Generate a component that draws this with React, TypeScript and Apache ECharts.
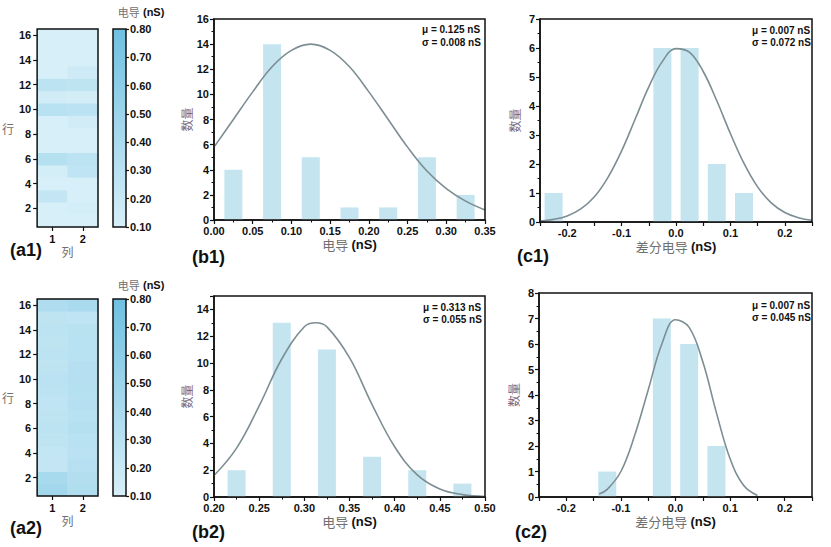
import React, { useEffect, useRef } from 'react';
import * as echarts from 'echarts';

// ---------- data ----------
const rowLabels = ['1', '2', '3', '4', '5', '6', '7', '8', '9', '10', '11', '12', '13', '14', '15', '16'];
const colLabels = ['1', '2'];

// heatmap (a1): rows 1..16, column 1 and column 2 (nS)
const a1Col1 = [0.045, 0.07, 0.23, 0.06, 0.12, 0.33, 0.08, 0.04, 0.06, 0.31, 0.14, 0.28, 0.09, 0.08, 0.04, 0.06];
const a1Col2 = [0.08, 0.12, 0.09, 0.03, 0.26, 0.28, 0.07, 0.09, 0.14, 0.29, 0.13, 0.27, 0.17, 0.09, 0.07, 0.07];
// heatmap (a2)
const a2Col1 = [0.46, 0.42, 0.23, 0.24, 0.27, 0.28, 0.27, 0.26, 0.28, 0.29, 0.27, 0.28, 0.27, 0.28, 0.27, 0.37];
const a2Col2 = [0.36, 0.35, 0.32, 0.29, 0.31, 0.33, 0.31, 0.32, 0.33, 0.32, 0.32, 0.31, 0.31, 0.30, 0.26, 0.41];

const colorbarMin = 0.1;
const colorbarMax = 0.8;
const colorbarLow = '#d7eff8';
const colorbarHigh = '#6fc0e1';

// histogram (b1)
const b1BinCenters = [0.025, 0.075, 0.125, 0.175, 0.225, 0.275, 0.325];
const b1Counts = [4, 14, 5, 1, 1, 5, 2];
const b1CurveX = [0, 0.025, 0.05, 0.075, 0.1, 0.125, 0.15, 0.175, 0.2, 0.225, 0.25, 0.275, 0.3, 0.325, 0.35];
const b1CurveY = [5.8, 8.0, 10.2, 12.2, 13.5, 14.0, 13.5, 12.2, 10.2, 8.0, 5.8, 3.9, 2.5, 1.5, 0.8];

// histogram (c1)
const c1BinCenters = [-0.225, -0.025, 0.025, 0.075, 0.125];
const c1Counts = [1, 6, 6, 2, 1];
const c1CurveX = [-0.25, -0.225, -0.2, -0.175, -0.15, -0.125, -0.1, -0.075, -0.05, -0.025, 0, 0.025, 0.05, 0.075, 0.1, 0.125, 0.15, 0.175, 0.2, 0.225, 0.25];
const c1CurveY = [0.03, 0.09, 0.21, 0.45, 0.87, 1.54, 2.45, 3.55, 4.66, 5.54, 5.98, 5.85, 5.19, 4.18, 3.05, 2.02, 1.21, 0.66, 0.33, 0.15, 0.06];

// histogram (b2)
const b2BinCenters = [0.225, 0.275, 0.325, 0.375, 0.425, 0.475];
const b2Counts = [2, 13, 11, 3, 2, 1];
const b2CurveX = [0.2, 0.225, 0.25, 0.275, 0.3, 0.3125, 0.325, 0.35, 0.375, 0.4, 0.425, 0.45, 0.475, 0.5];
const b2CurveY = [1.6, 3.65, 6.8, 10.3, 12.7, 13.0, 12.7, 10.4, 6.9, 3.75, 1.65, 0.6, 0.18, 0.04];

// histogram (c2)
const c2BinCenters = [-0.125, -0.025, 0.025, 0.075];
const c2Counts = [1, 7, 6, 2];
const c2CurveX = [-0.14, -0.125, -0.1, -0.075, -0.05, -0.025, 0, 0.025, 0.05, 0.075, 0.1, 0.125, 0.15];
const c2CurveY = [0.12, 0.3, 1.0, 2.4, 4.2, 6.0, 6.95, 6.65, 5.3, 3.3, 1.5, 0.45, 0.06];

const statsB1 = ['μ = 0.125 nS', 'σ = 0.008 nS'];
const statsC1 = ['μ = 0.007 nS', 'σ = 0.072 nS'];
const statsB2 = ['μ = 0.313 nS', 'σ = 0.055 nS'];
const statsC2 = ['μ = 0.007 nS', 'σ = 0.045 nS'];

// ---------- styles ----------
const LATIN = 'Liberation Sans, Arial, sans-serif';
const CJK = 'Noto Sans CJK SC, sans-serif';
const INK = '#111111';
const BAR = '#c4e4f0';
const CURVE = '#7c8e92';

const tickLabel = { fontFamily: LATIN, fontWeight: 'bold' as const, fontSize: 11, color: INK };
const nameRich = {
  a: { fontFamily: CJK, fontSize: 13, color: '#707070' },
  b: { fontFamily: LATIN, fontWeight: 'bold' as const, fontSize: 13, color: INK },
};

const boxGrid = (left: number, top: number, width: number, height: number) => ({
  left, top, width, height,
  show: true, z: 10, borderColor: INK, borderWidth: 1.5, backgroundColor: 'transparent',
});

function heatAxes(gridIndex: number) {
  const everyOther = (i: number) => i % 2 === 1;
  return {
    x: {
      gridIndex, type: 'category', data: colLabels, z: 11,
      axisLine: { show: false },
      axisTick: { show: true, alignWithLabel: true, length: 4, lineStyle: { color: INK, width: 1.2 } },
      axisLabel: { ...tickLabel, fontSize: 11, margin: 6 },
      splitLine: { show: false },
      name: '列', nameLocation: 'middle', nameGap: 18,
      nameTextStyle: { fontFamily: CJK, fontSize: 12, color: '#707070' },
    },
    y: {
      gridIndex, type: 'category', data: rowLabels, z: 11,
      axisLine: { show: false },
      axisTick: { show: true, alignWithLabel: true, interval: everyOther, length: 4, lineStyle: { color: INK, width: 1.2 } },
      axisLabel: { ...tickLabel, fontSize: 11, margin: 6, interval: everyOther },
      splitLine: { show: false },
      name: '行', nameLocation: 'middle', nameRotate: 0, nameGap: 19,
      nameTextStyle: { fontFamily: CJK, fontSize: 12, color: '#707070' },
    },
  };
}

function colorbarAxes(gridIndex: number) {
  return {
    x: { gridIndex, type: 'category', data: ['c'], show: false },
    y: {
      gridIndex, type: 'value', position: 'right', min: colorbarMin, max: colorbarMax, interval: 0.1, z: 11,
      axisLine: { show: false },
      axisTick: { show: true, length: 3, lineStyle: { color: INK, width: 1.2 } },
      axisLabel: { ...tickLabel, fontSize: 11, margin: 4, formatter: (v: number) => v.toFixed(2) },
      splitLine: { show: false },
    },
  };
}

function histAxes(
  gridIndex: number,
  xMin: number, xMax: number, xInterval: number, xFmt: (v: number) => string, xMinor: boolean,
  yMax: number, yInterval: number, xName: string,
) {
  return {
    x: {
      gridIndex, type: 'value', min: xMin, max: xMax, interval: xInterval,
      axisLine: { show: true, onZero: false, lineStyle: { color: INK, width: 1.5 } },
      axisTick: { show: true, length: 4, lineStyle: { color: INK, width: 1.2 } },
      minorTick: { show: xMinor, splitNumber: 2, length: 2.5, lineStyle: { color: INK, width: 1 } },
      splitLine: { show: false },
      axisLabel: { ...tickLabel, margin: 5, formatter: xFmt },
      name: xName, nameLocation: 'middle', nameGap: 18,
      nameTextStyle: { rich: nameRich },
    },
    y: {
      gridIndex, type: 'value', min: 0, max: yMax, interval: yInterval,
      axisLine: { show: true, onZero: false, lineStyle: { color: INK, width: 1.5 } },
      axisTick: { show: true, length: 4, lineStyle: { color: INK, width: 1.2 } },
      minorTick: { show: true, splitNumber: 2, length: 2.5, lineStyle: { color: INK, width: 1 } },
      splitLine: { show: false },
      axisLabel: {
        ...tickLabel, margin: 5,
        formatter: (v: number) => (Math.round(v) % yInterval === 0 ? String(Math.round(v)) : ''),
      },
      name: '数量', nameLocation: 'middle', nameGap: 20,
      nameTextStyle: { fontFamily: CJK, fontSize: 12, color: '#7a6a7e' },
    },
  };
}

const fmt2 = (v: number) => v.toFixed(2);
const fmtDiff = (v: number) => {
  const r = Math.round(v * 100);
  return r % 10 === 0 ? (r / 100).toFixed(1) : '';
};

function heatData(c1: number[], c2: number[]) {
  const out: number[][] = [];
  rowLabels.forEach((_, r) => {
    out.push([0, r, c1[r]]);
    out.push([1, r, c2[r]]);
  });
  return out;
}

const pairs = (xs: number[], ys: number[]) => xs.map((x, i) => [x, ys[i]]);

function colorbarSeries(idx: number) {
  return {
    type: 'custom', xAxisIndex: idx, yAxisIndex: idx,
    data: [[0, colorbarMin, colorbarMax]],
    renderItem: (params: any, api: any) => {
      const top = api.coord([0, api.value(2)]);
      const bot = api.coord([0, api.value(1)]);
      const cs = params.coordSys;
      return {
        type: 'rect',
        shape: { x: cs.x, y: top[1], width: cs.width, height: bot[1] - top[1] },
        style: {
          fill: new echarts.graphic.LinearGradient(0, 0, 0, 1, [
            { offset: 0, color: colorbarHigh },
            { offset: 1, color: colorbarLow },
          ]),
          stroke: INK,
          lineWidth: 1.5,
        },
      };
    },
  };
}

const barSeries = (idx: number, xs: number[], ys: number[]) => ({
  type: 'bar', xAxisIndex: idx, yAxisIndex: idx, data: pairs(xs, ys), barWidth: 18,
  itemStyle: { color: BAR }, z: 2,
});
const curveSeries = (idx: number, xs: number[], ys: number[]) => ({
  type: 'line', xAxisIndex: idx, yAxisIndex: idx, data: pairs(xs, ys), smooth: 0.4,
  showSymbol: false, symbol: 'none', lineStyle: { color: CURVE, width: 1.6 }, z: 3,
});

function txt(text: string, x: number, y: number, extra: any = {}) {
  return {
    type: 'text', x, y, z: 100,
    style: {
      text, fill: INK, fontFamily: LATIN, fontWeight: 'bold', fontSize: 10,
      align: 'left', textAlign: 'left', verticalAlign: 'middle', textVerticalAlign: 'middle',
      ...extra,
    },
  };
}

function buildOption() {
  const a1 = heatAxes(0);
  const cb1 = colorbarAxes(1);
  const b1 = histAxes(2, 0, 0.35, 0.05, fmt2, true, 16, 2, '{a|电导} {b|(nS)}');
  const c1 = histAxes(3, -0.25, 0.25, 0.05, fmtDiff, false, 7, 1, '{a|差分电导} {b|(nS)}');
  const a2 = heatAxes(4);
  const cb2 = colorbarAxes(5);
  const b2 = histAxes(6, 0.2, 0.5, 0.05, fmt2, true, 15, 2, '{a|电导} {b|(nS)}');
  const c2 = histAxes(7, -0.25, 0.25, 0.05, fmtDiff, false, 8, 1, '{a|差分电导} {b|(nS)}');

  const panel = (t: string, x: number, y: number) => txt(t, x, y, { fontSize: 18 });
  const stats = (lines: string[], x: number, y1: number, y2: number) => [
    txt(lines[0], x, y1, { fontSize: 10 }),
    txt(lines[1], x, y2, { fontSize: 10 }),
  ];
  const cbTitle = (x: number, y: number) => ({
    type: 'text', x, y, z: 100,
    style: {
      text: '{a|电导} {b|(nS)}',
      align: 'center', textAlign: 'center', verticalAlign: 'middle', textVerticalAlign: 'middle',
      rich: {
        a: { fontFamily: CJK, fontSize: 11, fill: '#707070', color: '#707070' },
        b: { fontFamily: LATIN, fontWeight: 'bold', fontSize: 11, fill: INK, color: INK },
      },
    },
  });

  return {
    animation: false,
    backgroundColor: '#ffffff',
    grid: [
      boxGrid(33, 29, 65, 198),
      { left: 113, top: 29, width: 13, height: 198 },
      boxGrid(214, 19, 271, 201),
      boxGrid(540, 19, 272, 203),
      boxGrid(33, 299, 65, 197),
      { left: 113, top: 299, width: 13, height: 197 },
      boxGrid(214, 296, 271, 201),
      boxGrid(539, 293, 273, 204),
    ],
    xAxis: [a1.x, cb1.x, b1.x, c1.x, a2.x, cb2.x, b2.x, c2.x],
    yAxis: [a1.y, cb1.y, b1.y, c1.y, a2.y, cb2.y, b2.y, c2.y],
    visualMap: [
      { type: 'continuous', show: false, seriesIndex: [0], dimension: 2, min: colorbarMin, max: colorbarMax, inRange: { color: [colorbarLow, colorbarHigh] } },
      { type: 'continuous', show: false, seriesIndex: [6], dimension: 2, min: colorbarMin, max: colorbarMax, inRange: { color: [colorbarLow, colorbarHigh] } },
    ],
    series: [
      { type: 'heatmap', xAxisIndex: 0, yAxisIndex: 0, data: heatData(a1Col1, a1Col2) },
      colorbarSeries(1),
      barSeries(2, b1BinCenters, b1Counts),
      curveSeries(2, b1CurveX, b1CurveY),
      barSeries(3, c1BinCenters, c1Counts),
      curveSeries(3, c1CurveX, c1CurveY),
      { type: 'heatmap', xAxisIndex: 4, yAxisIndex: 4, data: heatData(a2Col1, a2Col2) },
      colorbarSeries(5),
      barSeries(6, b2BinCenters, b2Counts),
      curveSeries(6, b2CurveX, b2CurveY),
      barSeries(7, c2BinCenters, c2Counts),
      curveSeries(7, c2CurveX, c2CurveY),
    ],
    graphic: [
      panel('(a1)', 10, 250),
      panel('(b1)', 192, 257),
      panel('(c1)', 517, 256),
      panel('(a2)', 10, 528),
      panel('(b2)', 192, 532),
      panel('(c2)', 515, 532),
      ...stats(statsB1, 422, 29, 42),
      ...stats(statsC1, 752, 30, 42),
      ...stats(statsB2, 423, 307, 319),
      ...stats(statsC2, 752, 305, 317),
      cbTitle(141, 12),
      cbTitle(141, 285),
    ],
  };
}

export default function App() {
  const ref = useRef<HTMLDivElement>(null);
  useEffect(() => {
    if (!ref.current) return;
    const chart = echarts.init(ref.current, null, { renderer: 'svg' });
    chart.setOption(buildOption() as any);
    return () => chart.dispose();
  }, []);
  return (
    <div
      ref={ref}
      style={{ position: 'absolute', left: 0, top: 0, width: 831, height: 547, background: '#fff' }}
    />
  );
}
